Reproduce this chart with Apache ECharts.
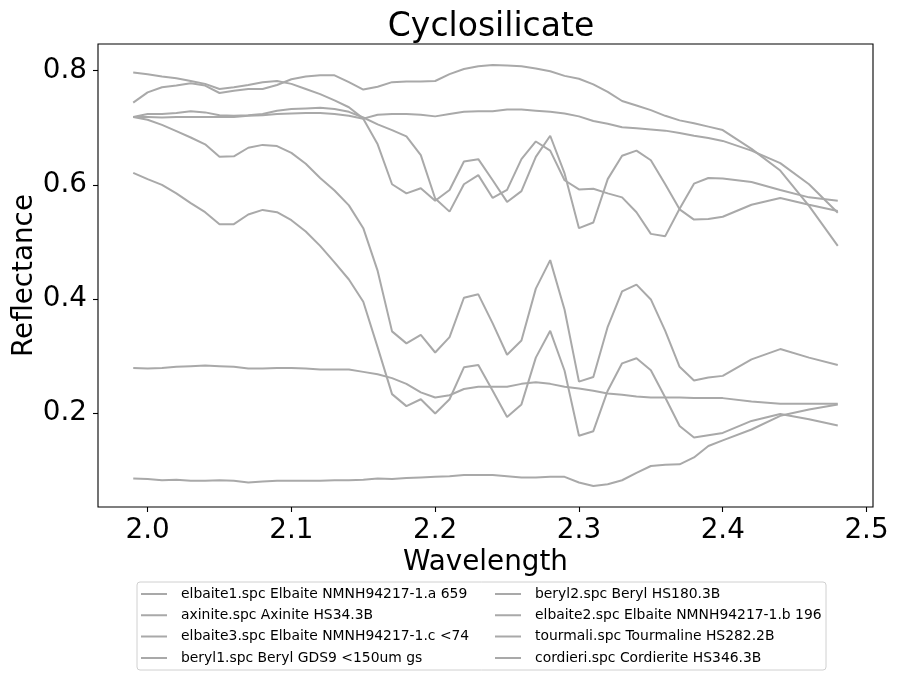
<!DOCTYPE html>
<html>
<head>
<meta charset="utf-8">
<title>Cyclosilicate</title>
<script src="https://cdn.jsdelivr.net/npm/echarts@6.0.0/dist/echarts.min.js"></script>
<style>
  html, body { margin: 0; padding: 0; background: #fff; }
  #chart { width: 899px; height: 680px; }
</style>
</head>
<body>
<div id="chart"></div>
<script>
// wavelength samples (micrometres)
const wavelength = [1.99, 2.00, 2.01, 2.02, 2.03, 2.04, 2.05, 2.06, 2.07, 2.08,
  2.09, 2.10, 2.11, 2.12, 2.13, 2.14, 2.15, 2.16, 2.17, 2.18,
  2.19, 2.20, 2.21, 2.22, 2.23, 2.24, 2.25, 2.26, 2.27, 2.28,
  2.29, 2.30, 2.31, 2.32, 2.33, 2.34, 2.35, 2.36, 2.37, 2.38,
  2.39, 2.40, 2.42, 2.44, 2.46, 2.48];

const elbaite1 = [0.797, 0.794, 0.790, 0.787, 0.782, 0.777, 0.768, 0.771, 0.775, 0.780,
  0.782, 0.777, 0.768, 0.759, 0.748, 0.736, 0.716, 0.671, 0.601, 0.585,
  0.594, 0.572, 0.591, 0.641, 0.645, 0.608, 0.570, 0.589, 0.649, 0.686,
  0.620, 0.524, 0.534, 0.610, 0.651, 0.660, 0.643, 0.601, 0.557, 0.539,
  0.540, 0.544, 0.565, 0.577, 0.565, 0.554];
const axinite = [0.279, 0.278, 0.279, 0.281, 0.282, 0.283, 0.282, 0.281, 0.278, 0.278,
  0.279, 0.279, 0.278, 0.276, 0.276, 0.276, 0.272, 0.268, 0.261, 0.251,
  0.236, 0.227, 0.231, 0.242, 0.246, 0.246, 0.246, 0.251, 0.254, 0.251,
  0.246, 0.243, 0.239, 0.234, 0.232, 0.229, 0.227, 0.227, 0.227, 0.226,
  0.226, 0.226, 0.220, 0.216, 0.216, 0.216];
const elbaite3 = [0.621, 0.610, 0.600, 0.585, 0.568, 0.552, 0.531, 0.531, 0.548, 0.556,
  0.552, 0.538, 0.518, 0.493, 0.464, 0.434, 0.395, 0.315, 0.233, 0.212,
  0.224, 0.199, 0.224, 0.280, 0.284, 0.239, 0.193, 0.215, 0.297, 0.344,
  0.274, 0.160, 0.168, 0.239, 0.287, 0.296, 0.275, 0.227, 0.177, 0.157,
  0.161, 0.165, 0.186, 0.198, 0.189, 0.178];
const beryl1 = [0.744, 0.762, 0.771, 0.774, 0.778, 0.774, 0.761, 0.765, 0.768, 0.768,
  0.775, 0.785, 0.790, 0.792, 0.792, 0.780, 0.767, 0.772, 0.780, 0.781,
  0.781, 0.782, 0.794, 0.803, 0.808, 0.810, 0.809, 0.808, 0.804, 0.799,
  0.791, 0.786, 0.776, 0.763, 0.747, 0.739, 0.731, 0.721, 0.713, 0.708,
  0.702, 0.696, 0.663, 0.625, 0.563, 0.493];
const beryl2 = [0.719, 0.719, 0.718, 0.719, 0.719, 0.719, 0.719, 0.719, 0.721, 0.722,
  0.724, 0.725, 0.726, 0.726, 0.724, 0.721, 0.716, 0.723, 0.724, 0.724,
  0.723, 0.720, 0.724, 0.728, 0.729, 0.729, 0.732, 0.732, 0.730, 0.728,
  0.725, 0.720, 0.712, 0.707, 0.701, 0.699, 0.697, 0.695, 0.691, 0.686,
  0.682, 0.677, 0.660, 0.638, 0.601, 0.551];
const elbaite2 = [0.719, 0.724, 0.724, 0.726, 0.729, 0.727, 0.722, 0.721, 0.722, 0.724,
  0.730, 0.733, 0.734, 0.735, 0.733, 0.728, 0.718, 0.706, 0.696, 0.685,
  0.652, 0.576, 0.553, 0.601, 0.617, 0.577, 0.591, 0.645, 0.676, 0.660,
  0.608, 0.592, 0.593, 0.585, 0.578, 0.552, 0.514, 0.510, 0.558, 0.602,
  0.612, 0.611, 0.605, 0.591, 0.578, 0.572];
const tourmali = [0.719, 0.714, 0.705, 0.694, 0.683, 0.671, 0.649, 0.650, 0.665, 0.670,
  0.668, 0.656, 0.637, 0.612, 0.590, 0.564, 0.524, 0.449, 0.343, 0.322,
  0.337, 0.306, 0.333, 0.402, 0.408, 0.357, 0.302, 0.327, 0.418, 0.468,
  0.381, 0.255, 0.263, 0.351, 0.413, 0.425, 0.399, 0.344, 0.281, 0.257,
  0.262, 0.265, 0.294, 0.312, 0.297, 0.284];
const cordieri = [0.085, 0.084, 0.082, 0.083, 0.081, 0.081, 0.082, 0.081, 0.078, 0.080,
  0.081, 0.081, 0.081, 0.081, 0.082, 0.082, 0.083, 0.085, 0.084, 0.086,
  0.087, 0.088, 0.089, 0.091, 0.091, 0.091, 0.089, 0.087, 0.087, 0.088,
  0.088, 0.078, 0.072, 0.075, 0.082, 0.095, 0.107, 0.109, 0.110, 0.122,
  0.142, 0.152, 0.171, 0.195, 0.206, 0.215];

const seriesNames = [
  'elbaite1.spc Elbaite NMNH94217-1.a 659',
  'axinite.spc Axinite HS34.3B',
  'elbaite3.spc Elbaite NMNH94217-1.c <74',
  'beryl1.spc Beryl GDS9 <150um gs',
  'beryl2.spc Beryl HS180.3B',
  'elbaite2.spc Elbaite NMNH94217-1.b 196',
  'tourmali.spc Tourmaline HS282.2B',
  'cordieri.spc Cordierite HS346.3B'
];
const seriesValues = [elbaite1, axinite, elbaite3, beryl1, beryl2, elbaite2, tourmali, cordieri];

const xTicks = [2.0, 2.1, 2.2, 2.3, 2.4, 2.5];
const yTicks = [0.2, 0.4, 0.6, 0.8];

// axis limits like matplotlib: data range plus 5% margins
const allY = [].concat(...seriesValues);
const xLo = Math.min(...wavelength), xHi = Math.max(...wavelength);
const yLo = Math.min(...allY), yHi = Math.max(...allY);
const xPad = (xHi - xLo) * 0.05, yPad = (yHi - yLo) * 0.05;

const font = 'DejaVu Sans';
const lineColor = '#a9a9a9';
// thin line legend handle (corner specks keep the 26x14 box)
const handleIcon = 'path://M0,0L0.01,0L0.01,0.01Z M0,6L26,6L26,8L0,8Z M25.99,14L26,14L26,13.99Z';

const chart = echarts.init(document.getElementById('chart'), null, { renderer: 'canvas' });

const series = seriesNames.map((name, k) => ({
  name: name,
  type: 'line',
  symbol: 'none',
  data: wavelength.map((w, i) => [w, seriesValues[k][i]]),
  lineStyle: { color: lineColor, width: 2 },
  itemStyle: { color: lineColor },
  emphasis: { disabled: true }
}));

const legendBase = {
  orient: 'vertical',
  top: 587,
  padding: 0,
  icon: handleIcon,
  itemWidth: 26,
  itemHeight: 14,
  itemGap: 7.3,
  selectedMode: false,
  textStyle: { fontFamily: font, fontSize: 13.9, color: '#000', padding: [0, 0, 0, 9] }
};

const option = {
  animation: false,
  backgroundColor: '#fff',
  title: {
    text: 'Cyclosilicate',
    left: 486,
    top: 6,
    textAlign: 'center',
    textStyle: { fontFamily: font, fontSize: 33, fontWeight: 'normal', color: '#000' }
  },
  grid: {
    left: 98, top: 44, width: 775, height: 463,
    containLabel: false,
    outerBoundsMode: 'none',
    show: true, borderColor: '#000', borderWidth: 1.1, backgroundColor: '#fff'
  },
  legend: [
    Object.assign({}, legendBase, { left: 141, data: seriesNames.slice(0, 4) }),
    Object.assign({}, legendBase, { left: 495, data: seriesNames.slice(4) })
  ],
  graphic: [{
    type: 'rect',
    z: -1,
    shape: { x: 137, y: 582, width: 689, height: 88, r: 3 },
    style: { fill: '#fff', stroke: '#d0d0d0', lineWidth: 1 }
  }],
  xAxis: {
    type: 'value',
    min: xLo - xPad,
    max: xHi + xPad,
    name: 'Wavelength',
    nameLocation: 'middle',
    nameGap: 42,
    nameMoveOverlap: false,
    nameTextStyle: { fontFamily: font, fontSize: 27.8, color: '#000' },
    axisLine: { show: false },
    splitLine: { show: false },
    axisTick: { show: true, inside: false, length: 5, customValues: xTicks, lineStyle: { color: '#000', width: 1.1 } },
    axisLabel: {
      customValues: xTicks, margin: 10,
      fontFamily: font, fontSize: 27.8, color: '#000',
      formatter: v => v.toFixed(1)
    }
  },
  yAxis: {
    type: 'value',
    min: yLo - yPad,
    max: yHi + yPad,
    name: 'Reflectance',
    nameLocation: 'middle',
    nameGap: 59,
    nameMoveOverlap: false,
    nameRotate: 90,
    nameTextStyle: { fontFamily: font, fontSize: 27.8, color: '#000' },
    axisLine: { show: false },
    splitLine: { show: false },
    axisTick: { show: true, inside: false, length: 5, customValues: yTicks, lineStyle: { color: '#000', width: 1.1 } },
    axisLabel: {
      customValues: yTicks, margin: 11,
      fontFamily: font, fontSize: 27.8, color: '#000',
      formatter: v => v.toFixed(1)
    }
  },
  series: series
};

chart.setOption(option);
</script>
</body>
</html>
